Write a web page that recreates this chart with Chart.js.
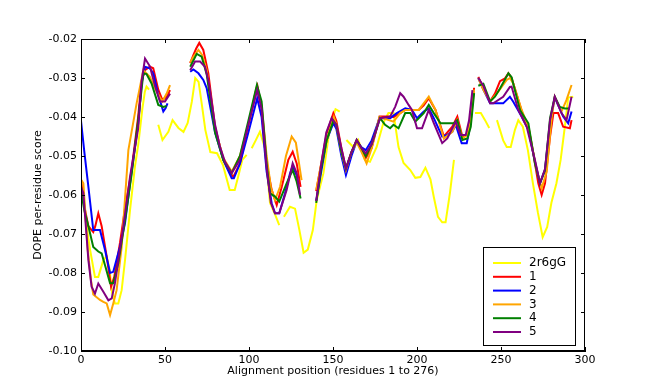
<!DOCTYPE html>
<html>
<head>
<meta charset="utf-8">
<script src="https://cdn.jsdelivr.net/npm/chart.js@4"></script>
<style>
html, body { margin: 0; padding: 0; background: #fff; }
#wrap { width: 650px; height: 390px; }
</style>
</head>
<body>
<div id="wrap"><canvas id="chart" width="650" height="390"></canvas></div>
<script>
// [residue position, DOPE score]; null marks a break in the line
const template2r6gG = [
    [0,-0.058],[1,-0.0595],[3,-0.067],[5.4,-0.074],[8.3,-0.081],[10.3,-0.081],[13.3,-0.0767],[15.3,-0.0758],[17,-0.079],[18.5,-0.085],[20.2,-0.0878],[22.2,-0.0878],[24.2,-0.0844],[26.2,-0.0767],[29.2,-0.0638],[32.1,-0.0527],[34.1,-0.047],[36.5,-0.038],[38,-0.0335],[39,-0.0322],[40.5,-0.033],[43,null],
    [46,-0.042],[48.5,-0.0459],[52,-0.0438],[54.5,-0.0408],[58,-0.0428],[61,-0.0438],[63.5,-0.0415],[66,-0.036],[68,-0.030],[70,-0.031],[72,-0.037],[74,-0.0433],[77,-0.049],[81,-0.0493],[84.5,-0.0523],[88.5,-0.0587],[91.5,-0.0587],[93.5,-0.0554],[96,-0.051],[98.6,-0.0497],[100,null],
    [101.6,-0.048],[104,-0.046],[106.5,-0.0438],[109.5,-0.048],[112.5,-0.062],[115.5,-0.065],[118,-0.0677],[119.5,null],
    [120.8,-0.0656],[124.4,-0.063],[127.4,-0.0635],[130,-0.069],[132.5,-0.0748],[135,-0.074],[138,-0.069],[140.3,-0.0613],[144.3,-0.0544],[148.2,-0.0425],[151.5,-0.038],[154,-0.0386],[156,null],
    [158,-0.0459],[162,-0.0477],[165,-0.0459],[169,-0.051],[172,-0.0515],[176,-0.0477],[180,-0.0415],[183,-0.039],[186,-0.039],[189,-0.0477],[192,-0.0518],[196,-0.0536],[199,-0.0556],[202,-0.0554],[205,-0.053],[208,-0.056],[210,-0.0605],[212.5,-0.0656],[215,-0.067],[217,-0.067],[219.6,-0.0595],[222,-0.051],[228,null],
    [234.5,-0.039],[238,-0.039],[240.5,-0.0408],[243,-0.0428],[245,null],
    [247.6,-0.0408],[251.3,-0.046],[253.4,-0.0477],[255.8,-0.0477],[258.3,-0.0433],[260.3,-0.0408],[263,-0.0425],[266,-0.0485],[269,-0.057],[272,-0.0646],[274.8,-0.0708],[277.5,-0.0682],[280,-0.062],[283,-0.057],[285.5,-0.051],[288,-0.0425],[290,-0.035],[293,-0.0348]
];

const model1 = [
    [0,-0.056],[2,-0.063],[4.4,-0.068],[7.3,-0.0695],[8.5,-0.068],[10.3,-0.0647],[12.3,-0.068],[15.3,-0.0758],[17.9,-0.0835],[19.8,-0.081],[23.2,-0.0723],[26,-0.064],[30,-0.054],[34,-0.040],[36,-0.031],[38,-0.028],[41,-0.0271],[43,-0.0275],[46,-0.033],[48.4,-0.0356],[51,-0.0348],[53,-0.0331],[54,null],
    [65,-0.0262],[67,-0.024],[68.5,-0.0225],[70.4,-0.021],[72.8,-0.0228],[75.8,-0.0288],[79.8,-0.0425],[84.7,-0.051],[88.7,-0.0544],[90.7,-0.0553],[94.6,-0.0519],[99.6,-0.0425],[104.2,-0.0331],[105,-0.032],[107.5,-0.0374],[110.5,-0.0519],[113.5,-0.0587],[116.5,-0.0626],[119.5,-0.0579],[123.4,-0.051],[126,-0.0489],[128.4,-0.0519],[130.7,-0.0579],[133,null],
    [140,-0.059],[143,-0.052],[146.2,-0.0442],[150.2,-0.039],[152,-0.041],[155,-0.048],[157.7,-0.0532],[161,-0.049],[164.1,-0.0459],[167,-0.048],[169.5,-0.0505],[173,-0.048],[177.7,-0.0399],[182.7,-0.0399],[186,-0.040],[190,-0.039],[193,-0.0382],[201,-0.0382],[204,-0.037],[207,-0.0352],[211,-0.0382],[216,-0.045],[221,-0.0425],[224,-0.0399],[227,-0.045],[230,-0.0446],[232,-0.040],[234,-0.0325],[235,null],
    [236.5,-0.0297],[239.5,-0.0327],[243.5,-0.036],[246.4,-0.034],[249.4,-0.0308],[252.4,-0.0301],[254.4,-0.0288],[256.3,-0.030],[260.3,-0.0356],[263.3,-0.0399],[266.3,-0.0425],[269.2,-0.0493],[272.2,-0.057],[274.2,-0.060],[276.2,-0.057],[279.2,-0.045],[281.2,-0.039],[284,-0.039],[287,-0.0425],[291,-0.0429],[292,-0.0408]
];

const model2 = [
    [0,-0.041],[2,-0.049],[4.4,-0.0579],[7.3,-0.069],[11.3,-0.069],[14.3,-0.0741],[17.3,-0.080],[19.2,-0.0797],[23.2,-0.0733],[26.2,-0.0672],[29.2,-0.057],[34.1,-0.0416],[36.1,-0.0313],[38.1,-0.0271],[41,-0.0275],[43,-0.0288],[46,-0.0344],[49,-0.0386],[50.4,-0.0377],[51.5,-0.0365],[53,null],
    [65,-0.0284],[66.9,-0.0278],[69.9,-0.0288],[72.8,-0.0305],[74.8,-0.0326],[79.8,-0.044],[84.7,-0.051],[89.7,-0.0557],[91,-0.0557],[94.6,-0.052],[99.6,-0.044],[104.9,-0.0352],[107.5,-0.040],[110.5,-0.054],[113.5,-0.0621],[115.5,-0.0647],[118,-0.0647],[121.4,-0.0596],[124.4,-0.0545],[126,-0.0525],[128.4,-0.055],[129.5,-0.058],[133,null],
    [140,-0.0615],[143,-0.054],[146.2,-0.046],[150.2,-0.0416],[152,-0.043],[155,-0.050],[157.7,-0.0549],[161,-0.050],[164.1,-0.0462],[167,-0.0478],[169.5,-0.0485],[173,-0.046],[177.7,-0.0403],[184,-0.0403],[188,-0.039],[193,-0.0378],[197,-0.0382],[200,-0.0403],[204,-0.0386],[207,-0.0378],[210,-0.0403],[215,-0.045],[218,-0.0446],[221,-0.0438],[223,-0.042],[226.6,-0.0467],[229.6,-0.0467],[231,-0.0438],[233.5,-0.0339],[235,null],
    [236.5,-0.030],[239.5,-0.033],[243.5,-0.0365],[249.4,-0.0365],[251.3,-0.0365],[255.3,-0.0348],[257.3,-0.0361],[262.3,-0.0399],[266.3,-0.0433],[270,-0.051],[273.2,-0.057],[276.2,-0.0536],[279.2,-0.0416],[282,-0.035],[287,-0.0399],[290,-0.0416],[292,-0.0386]
];

const model3 = [
    [0,-0.056],[1.4,-0.057],[2.5,-0.064],[4,-0.074],[6,-0.082],[7.3,-0.0855],[11.3,-0.0869],[13.3,-0.0874],[15.3,-0.0878],[17.3,-0.0908],[19.2,-0.0878],[21.2,-0.0844],[24.2,-0.0733],[28.2,-0.0485],[33.1,-0.0365],[37.1,-0.028],[41,-0.0297],[45,-0.0335],[48.4,-0.036],[51,-0.034],[53,-0.0318],[54,null],
    [65,-0.026],[67,-0.0245],[69.9,-0.0228],[72,-0.024],[74.8,-0.028],[79.8,-0.043],[84.7,-0.0505],[89.7,-0.054],[94.6,-0.050],[99.6,-0.042],[104.5,-0.0325],[107.5,-0.037],[110.5,-0.050],[113,-0.058],[115.5,-0.0613],[118.5,-0.0579],[122,-0.050],[125.4,-0.045],[127.9,-0.0466],[131.3,-0.0562],[133,null],
    [140,-0.0587],[143,-0.052],[146.2,-0.046],[150.5,-0.040],[152,-0.042],[155,-0.049],[157.7,-0.0536],[161,-0.049],[164.1,-0.0465],[167,-0.049],[170,-0.0519],[173,-0.048],[177.7,-0.040],[186,-0.0412],[190,-0.039],[193,-0.0382],[201,-0.0382],[204,-0.0365],[207,-0.0348],[211,-0.0382],[216,-0.0455],[221,-0.0438],[224,-0.0408],[227,-0.0455],[230,-0.0446],[232,-0.041],[234,-0.033],[235,null],
    [236.5,-0.030],[239.5,-0.033],[243.5,-0.036],[248.4,-0.0335],[253.4,-0.0305],[255.3,-0.030],[257.3,-0.0314],[262.3,-0.0382],[266.3,-0.0425],[271.2,-0.0536],[274.2,-0.0583],[277.2,-0.054],[280.2,-0.0399],[282,-0.0348],[286,-0.0386],[289,-0.0356],[292,-0.0318]
];

const model4 = [
    [0,-0.059],[2,-0.064],[4.4,-0.068],[7.3,-0.0733],[10.3,-0.0745],[12.3,-0.075],[14.3,-0.078],[17.3,-0.0826],[19.2,-0.0826],[22.2,-0.0775],[26,-0.067],[30,-0.055],[34,-0.041],[37.1,-0.0288],[39,-0.029],[42,-0.0314],[46,-0.0369],[49,-0.0374],[51,-0.0372],[53,null],
    [65,-0.0271],[68.9,-0.0238],[71.8,-0.0245],[74.8,-0.029],[79.8,-0.044],[84.7,-0.051],[89.7,-0.0544],[94.6,-0.050],[99.6,-0.041],[104.7,-0.0318],[107.5,-0.036],[110.5,-0.052],[112.5,-0.0596],[115.5,-0.0604],[118,-0.0617],[122.4,-0.057],[126,-0.0536],[128.4,-0.0566],[130.7,-0.0609],[133,null],
    [140,-0.062],[143,-0.053],[146.2,-0.046],[150.2,-0.041],[152,-0.042],[155,-0.049],[157.7,-0.0532],[161,-0.049],[164.1,-0.0459],[167,-0.048],[169.5,-0.050],[173,-0.047],[178,-0.0403],[181,-0.042],[184,-0.0429],[186,-0.042],[189,-0.0429],[193,-0.039],[196,-0.039],[199,-0.0412],[204,-0.039],[207,-0.0369],[210,-0.039],[214,-0.0416],[222,-0.0416],[224,-0.0408],[227,-0.0459],[230,-0.0455],[232,-0.0425],[234,-0.0339],[235,null],
    [236.5,-0.032],[239.5,-0.0315],[243.5,-0.036],[246.4,-0.0348],[249.4,-0.0327],[254.4,-0.0288],[256.3,-0.0298],[261.3,-0.0382],[266.3,-0.0416],[270.2,-0.0519],[273.2,-0.057],[276.2,-0.0536],[279.2,-0.0403],[282,-0.0348],[285,-0.0374],[288,-0.0378],[291,-0.0378]
];

const model5 = [
    [0,-0.058],[1.4,-0.0595],[4.4,-0.0767],[6.3,-0.0835],[8.3,-0.0853],[10.3,-0.0827],[13.3,-0.0848],[16.3,-0.087],[18.3,-0.0865],[20.2,-0.0826],[25.2,-0.0681],[29.2,-0.0553],[34,-0.043],[36,-0.031],[38.1,-0.025],[41,-0.027],[44,-0.032],[47,-0.036],[50,-0.036],[53,-0.034],[54,null],
    [65,-0.028],[67.9,-0.0258],[70.9,-0.0258],[73.8,-0.0271],[76,-0.031],[79.8,-0.042],[82.7,-0.0476],[85.7,-0.0515],[89.7,-0.0544],[94.6,-0.051],[99.6,-0.042],[104.9,-0.0331],[107.5,-0.038],[110.5,-0.053],[113,-0.062],[115.5,-0.0647],[118,-0.0647],[122.4,-0.0587],[126,-0.0519],[128.4,-0.0544],[130.4,-0.060],[133,null],
    [140,-0.0615],[143,-0.052],[146,-0.044],[149.2,-0.0403],[152,-0.042],[155,-0.048],[157.7,-0.0532],[161,-0.049],[164.1,-0.0459],[167,-0.048],[169.5,-0.0493],[173,-0.047],[178,-0.0403],[184,-0.0399],[187,-0.0374],[190,-0.0339],[192,-0.0348],[195,-0.0369],[197,-0.0382],[200,-0.0429],[203,-0.0429],[207,-0.0382],[210,-0.0416],[215,-0.0467],[218,-0.0455],[223,-0.0412],[226,-0.0446],[229,-0.0446],[231,-0.0408],[233,-0.0331],[235,null],
    [236.5,-0.030],[239.5,-0.032],[243.5,-0.0365],[245.4,-0.0365],[251.3,-0.0348],[255.3,-0.0323],[256.3,-0.0322],[260.3,-0.0382],[265.3,-0.0425],[270.2,-0.051],[273.2,-0.057],[276.2,-0.0533],[279.2,-0.0408],[282,-0.0348],[286,-0.039],[289,-0.0408],[292,-0.0348]
];

const seriesLabels = ['2r6gG', '1', '2', '3', '4', '5'];
const seriesData = [template2r6gG, model1, model2, model3, model4, model5];
const seriesColors = ['#ffff00', '#ff0000', '#0000ff', '#ffa500', '#008000', '#800080'];

const xTicks = [0, 50, 100, 150, 200, 250, 300];
const yTicks = [-0.10, -0.09, -0.08, -0.07, -0.06, -0.05, -0.04, -0.03, -0.02];

const FONT = 'DejaVu Sans';

// matplotlib-like frame, inward ticks and a boxed legend
const framePlugin = {
    id: 'frame',
    afterDatasetsDraw(chart) {
        const { ctx, chartArea: a, scales } = chart;
        ctx.save();
        ctx.strokeStyle = '#000';
        ctx.lineWidth = 1;
        ctx.strokeRect(a.left + 0.5, a.top + 0.5, a.right - a.left - 1, a.bottom - a.top - 1);
        ctx.beginPath();
        xTicks.forEach(v => {
            const x = Math.round(scales.x.getPixelForValue(v)) + 0.5;
            ctx.moveTo(x, a.bottom); ctx.lineTo(x, a.bottom - 4);
            ctx.moveTo(x, a.top); ctx.lineTo(x, a.top + 4);
        });
        yTicks.forEach(v => {
            const y = Math.round(scales.y.getPixelForValue(v)) + 0.5;
            ctx.moveTo(a.left, y); ctx.lineTo(a.left + 4, y);
            ctx.moveTo(a.right, y); ctx.lineTo(a.right - 4, y);
        });
        ctx.stroke();

        // legend box
        const boxW = 92, boxH = 98;
        const bx = a.right - 10 - boxW, by = a.bottom - 6 - boxH;
        ctx.fillStyle = '#fff';
        ctx.fillRect(bx, by, boxW, boxH);
        ctx.strokeRect(bx + 0.5, by + 0.5, boxW, boxH);
        ctx.font = '12px "' + FONT + '"';
        ctx.textBaseline = 'middle';
        ctx.textAlign = 'left';
        seriesLabels.forEach((label, i) => {
            const y = by + 16 + i * 13.8;
            ctx.strokeStyle = seriesColors[i];
            ctx.lineWidth = 2;
            ctx.beginPath();
            ctx.moveTo(bx + 10, y); ctx.lineTo(bx + 38, y);
            ctx.stroke();
            ctx.fillStyle = '#000';
            ctx.fillText(label, bx + 46, y);
        });
        ctx.restore();
    }
};

const datasets = seriesData.map((pts, i) => ({
    label: seriesLabels[i],
    data: pts.map(p => ({ x: p[0], y: p[1] })),
    borderColor: seriesColors[i],
    backgroundColor: seriesColors[i],
    borderWidth: 2,
    pointRadius: 0,
    tension: 0,
    fill: false,
    spanGaps: false,
    order: seriesData.length - i
}));

new Chart(document.getElementById('chart'), {
    type: 'line',
    data: { datasets: datasets },
    options: {
        responsive: false,
        animation: false,
        devicePixelRatio: 1,
        layout: { padding: { top: 39, right: 65, left: 0, bottom: 0 } },
        plugins: {
            legend: { display: false },
            tooltip: { enabled: false }
        },
        scales: {
            x: {
                type: 'linear',
                min: 0,
                max: 300,
                afterBuildTicks: scale => { scale.ticks = xTicks.map(v => ({ value: v })); },
                afterFit: scale => { scale.height = 39; },
                ticks: {
                    color: '#000',
                    padding: 3,
                    maxRotation: 0,
                    font: { family: FONT, size: 11 },
                    callback: v => String(v)
                },
                grid: { display: false, drawTicks: false },
                border: { display: true, color: '#000' },
                title: {
                    display: true,
                    text: 'Alignment position (residues 1 to 276)',
                    color: '#000',
                    font: { family: FONT, size: 11 },
                    padding: { top: 0, bottom: 12 }
                }
            },
            y: {
                min: -0.10,
                max: -0.02,
                afterBuildTicks: scale => { scale.ticks = yTicks.map(v => ({ value: v })); },
                afterFit: scale => { scale.width = 81; },
                ticks: {
                    color: '#000',
                    padding: 4,
                    font: { family: FONT, size: 11 },
                    callback: v => v.toFixed(2)
                },
                grid: { display: false, drawTicks: false },
                border: { display: true, color: '#000' },
                title: {
                    display: true,
                    text: 'DOPE per-residue score',
                    color: '#000',
                    font: { family: FONT, size: 11 },
                    padding: { top: 32, bottom: 0 }
                }
            }
        }
    },
    plugins: [framePlugin]
});
</script>
</body>
</html>
